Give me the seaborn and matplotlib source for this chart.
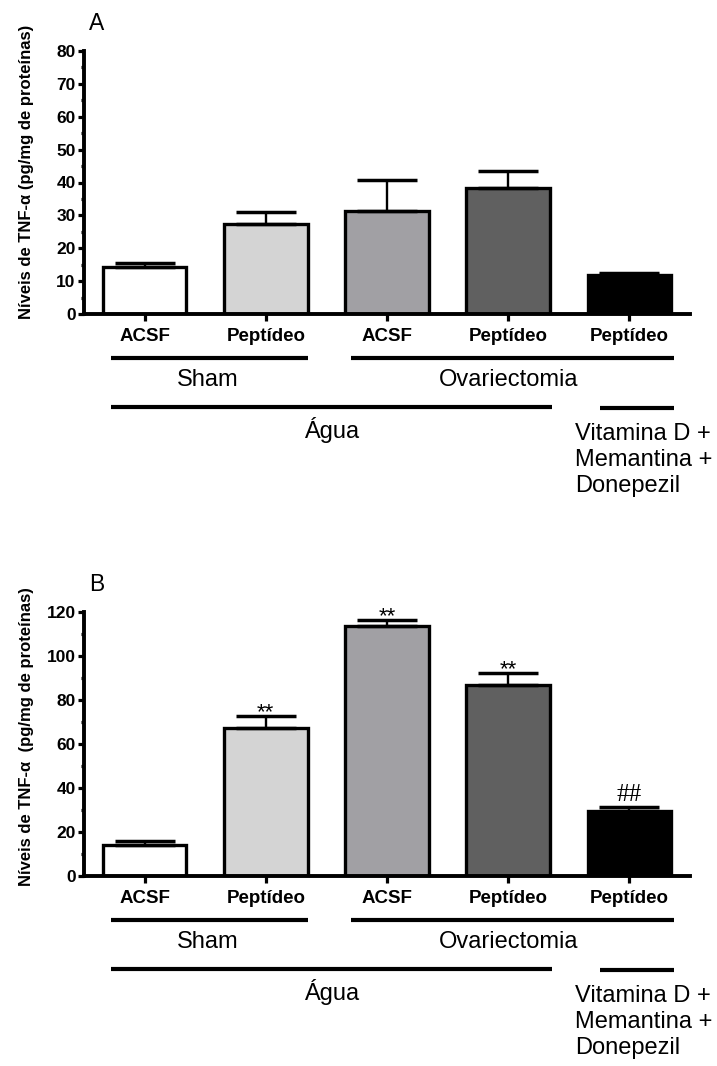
import numpy as np
import pandas as pd
import matplotlib.pyplot as plt
import matplotlib.transforms as mtransforms
from matplotlib.ticker import MultipleLocator
import seaborn as sns

# grupos experimentais (ordem das barras)
grupos = ["Sham ACSF", "Sham Peptídeo", "OVX ACSF", "OVX Peptídeo", "OVX VMD Peptídeo"]
rotulos = ["ACSF", "Peptídeo", "ACSF", "Peptídeo", "Peptídeo"]
cores = ["#ffffff", "#d4d4d4", "#a09fa5", "#606060", "#000000"]

# painel A
tnf_a_media = [14.2, 27.3, 31.3, 38.3, 11.9]
tnf_a_epm = [1.2, 3.7, 9.4, 5.2, 0.5]

# painel B
tnf_b_media = [14.1, 67.4, 113.8, 86.8, 29.7]
tnf_b_epm = [1.8, 5.3, 2.6, 5.3, 1.8]
tnf_b_sinal = ["", "**", "**", "**", "##"]

sns.set_style("ticks")
plt.rcParams["font.family"] = ["Liberation Sans", "DejaVu Sans"]
for k in ["text.color", "axes.labelcolor", "xtick.color", "ytick.color", "axes.edgecolor"]:
    plt.rcParams[k] = "black"

fig = plt.figure(figsize=(7.17, 10.66), dpi=100)


def px(v):
    # pixels -> points (100 dpi)
    return v * 0.72


def painel(rect, media, epm, ymax, major, minor, letra, ylabel, label_y):
    ax = fig.add_axes(rect)
    df = pd.DataFrame({"grupo": grupos, "tnf": media})
    sns.barplot(data=df, x="grupo", y="tnf", hue="grupo", order=grupos,
                palette=cores, legend=False, width=0.69,
                edgecolor="black", linewidth=2.4, ax=ax)
    x = np.arange(len(grupos))
    ax.errorbar(x, media, yerr=[np.zeros(len(epm)), epm], fmt="none",
                ecolor="black", elinewidth=1.7, capsize=21.5, capthick=2.5,
                zorder=3)

    ax.set_xlim(-0.5, 4.5)
    ax.set_ylim(0, ymax)
    ax.yaxis.set_major_locator(MultipleLocator(major))
    ax.yaxis.set_minor_locator(MultipleLocator(minor))
    ax.set_xticks(x)
    ax.set_xticklabels(rotulos, fontsize=13.5, fontweight="bold")
    for t in ax.get_yticklabels():
        t.set_fontsize(12.5)
        t.set_fontweight("bold")
    ax.tick_params(axis="x", length=5, width=2.3, pad=5)
    ax.tick_params(axis="y", which="major", length=4.5, width=2.3, pad=1.5)
    ax.tick_params(axis="y", which="minor", length=2.5, width=2.3)
    sns.despine(ax=ax)
    ax.spines["left"].set_linewidth(2.8)
    ax.spines["bottom"].set_linewidth(2.8)
    ax.set_xlabel("")
    ax.set_ylabel(ylabel, fontsize=12, fontweight="bold")
    ax.yaxis.set_label_coords(-0.083, label_y)

    acima = mtransforms.offset_copy(ax.transAxes, fig=fig, y=px(21), units="points")
    ax.text(0.008, 1.0, letra, transform=acima, fontsize=16.5,
            ha="left", va="baseline")
    # linhas e nomes dos grupos abaixo do eixo
    base = ax.get_xaxis_transform()

    def abaixo(p):
        return mtransforms.offset_copy(base, fig=fig, y=-px(p), units="points")

    linhas = [(-0.28, 1.35, 44), (1.70, 4.37, 44), (-0.28, 3.36, 93), (3.76, 4.37, 94)]
    for x0, x1, p in linhas:
        ax.plot([x0, x1], [0, 0], color="black", lw=3, clip_on=False,
                transform=abaixo(p), solid_capstyle="butt")
    ax.text(0.52, 0, "Sham", fontsize=17, ha="center", va="center",
            transform=abaixo(66))
    ax.text(3.0, 0, "Ovariectomia", fontsize=17, ha="center", va="center",
            transform=abaixo(66))
    ax.text(1.54, 0, "Água", fontsize=17, ha="center", va="center",
            transform=abaixo(116))
    ax.text(3.55, 0, "Vitamina D +\nMemantina +\nDonepezil", fontsize=17,
            ha="left", va="top", linespacing=1.23, transform=abaixo(109))
    return ax


ax_a = painel([84 / 717, 1 - 314 / 1066, 606 / 717, 263 / 1066],
              tnf_a_media, tnf_a_epm, 80, 10, 5, "A",
              "Níveis de TNF-α (pg/mg de proteínas)", 0.54)

ax_b = painel([84 / 717, 1 - 876 / 1066, 606 / 717, 264 / 1066],
              tnf_b_media, tnf_b_epm, 120, 20, 10, "B",
              "Níveis de TNF-α  (pg/mg de proteínas)", 0.527)

# marcas de significância
for i, s in enumerate(tnf_b_sinal):
    if not s:
        continue
    topo = tnf_b_media[i] + tnf_b_epm[i]
    if s == "##":
        ax_b.annotate(s, (i, topo), xytext=(0, 4), textcoords="offset points",
                      ha="center", va="baseline", fontsize=18,
                      family=["Liberation Serif", "DejaVu Serif"])
    else:
        ax_b.annotate(s, (i, topo), xytext=(0, -1.5), textcoords="offset points",
                      ha="center", va="baseline", fontsize=16)

fig.savefig("out.png", dpi=100)
